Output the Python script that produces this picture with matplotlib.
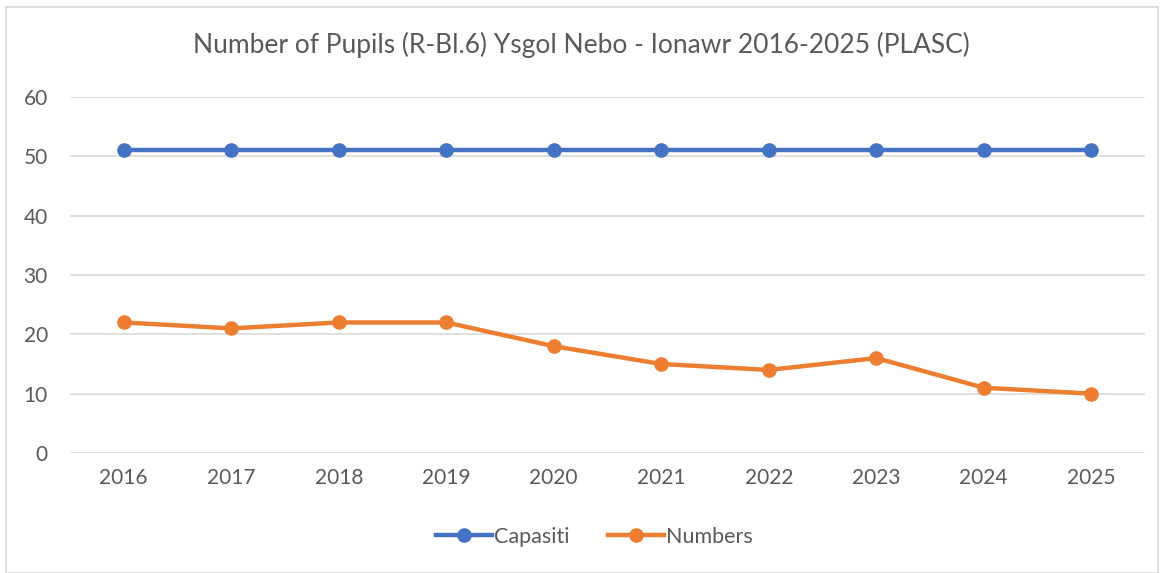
import matplotlib
matplotlib.use("Agg")
from matplotlib import pyplot as plt
from matplotlib.patches import Rectangle

years = ['2016', '2017', '2018', '2019', '2020', '2021', '2022', '2023', '2024', '2025']
capasiti = [51, 51, 51, 51, 51, 51, 51, 51, 51, 51]
numbers = [22, 21, 22, 22, 18, 15, 14, 16, 11, 10]

plt.rcParams['font.family'] = ['Lato', 'DejaVu Sans']
txt = '#595959'
grid = '#d9d9d9'

fig = plt.figure(figsize=(11.63, 5.73), dpi=100)
fig.patches.append(Rectangle((6 / 1163, 0), 1152 / 1163, 1 - 7 / 573, transform=fig.transFigure,
                             fill=False, edgecolor=grid, linewidth=1.2))
ax = fig.add_axes([70 / 1163, 1 - 453 / 573, 1075 / 1163, 356 / 573])

x = list(range(len(years)))
ax.plot(x, capasiti, color='#4472C4', linewidth=3.2, marker='o', markersize=9.5, label='Capasiti')
ax.plot(x, numbers, color='#ED7D31', linewidth=3.2, marker='o', markersize=9.5, label='Numbers')

ax.set_xlim(-0.5, len(years) - 0.5)
ax.set_ylim(0, 60)
ax.set_yticks(range(0, 61, 10))
ax.set_xticks(x)
ax.set_xticklabels(years)
ax.grid(axis='y', color=grid, linewidth=1.2)
ax.set_axisbelow(True)
for s in ax.spines.values():
    s.set_visible(False)
ax.tick_params(length=0, labelsize=15, colors=txt)
ax.tick_params(axis='x', pad=11)
ax.tick_params(axis='y', pad=16)

fig.text(0.5, 1 - 45 / 573, 'Number of Pupils (R-Bl.6) Ysgol Nebo - Ionawr 2016-2025 (PLASC)',
         ha='center', va='center', fontsize=19, color=txt)
fig.legend(loc='center', bbox_to_anchor=(0.511, 1 - 537 / 573), ncol=2, frameon=False,
           fontsize=15.5, labelcolor=txt, handlelength=2.6, handletextpad=0.1, columnspacing=1.8)

fig.savefig('out.png', dpi=100)
